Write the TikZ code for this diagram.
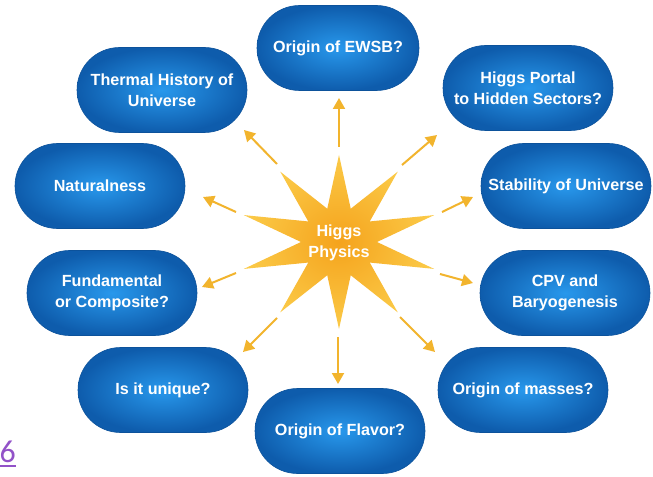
\documentclass[tikz,border=0pt]{standalone}
\usepackage{fontspec}
\setmainfont{Liberation Sans}
\newfontfamily\linkfont{Carlito}
\usetikzlibrary{arrows.meta,shapes.misc}
\definecolor{boxin}{RGB}{40,152,236}
\definecolor{boxout}{RGB}{14,92,172}
\definecolor{boxedge}{RGB}{12,82,155}
\definecolor{arrowc}{RGB}{242,180,45}
\definecolor{starin}{RGB}{245,163,28}
\definecolor{starout}{RGB}{251,202,72}
\definecolor{linkc}{RGB}{146,82,200}
\begin{document}
\begin{tikzpicture}[x=1bp,y=-1bp,
  topic/.style={rounded rectangle, minimum width=170bp, minimum height=85bp, inner sep=0pt,
    inner color=boxin, outer color=boxout, draw=boxedge, line width=0.6bp,
    text=white, font=\bfseries\fontsize{16.2}{21}\selectfont, align=center},
  ray/.style={draw=arrowc, line width=2bp, -{Triangle[length=11bp,width=12bp]}},
  label/.style={text=white, font=\bfseries\fontsize{16.2}{21}\selectfont, align=center, inner sep=0pt},
]
\useasboundingbox[fill=white] (0,0) rectangle (653,477);

% star
\shade[inner color=starin, outer color=starout]
  plot[samples at={0,...,19}, variable=\k]
  ({339+cos(90+18*\k)*ifthenelse(mod(\k,2)==0,100,38)},
   {242+sin(90+18*\k)*ifthenelse(mod(\k,2)==0,87,35)}) -- cycle;
\node[label] (core) at (339,243) {Higgs\\Physics};

% topics
\node[topic, minimum width=162bp] (ewsb) at (338,48) {Origin of EWSB?};
\node[topic] (thermal) at (162,90) {Thermal History of\\Universe};
\node[topic] (portal) at (528,88) {Higgs Portal\\to Hidden Sectors?};
\node[topic] (natural) at (100,186) {Naturalness};
\node[topic] (stab) at (566,186) {Stability of Universe};
\node[topic] (fund) at (112,293) {Fundamental\\or Composite?};
\node[topic] (cpv) at (565,293) {CPV and\\Baryogenesis};
\node[topic] (unique) at (163,390) {Is it unique?};
\node[topic] (masses) at (523,390) {Origin of masses?};
\node[topic] (flavor) at (340,431) {Origin of Flavor?};

% arrow ends
\coordinate (a1) at (339,147); \coordinate (b1) at (339,98);
\coordinate (a2) at (402,165); \coordinate (b2) at (437,135);
\coordinate (a3) at (277,164); \coordinate (b3) at (244,130);
\coordinate (a4) at (236,212); \coordinate (b4) at (203,197);
\coordinate (a5) at (236,273); \coordinate (b5) at (202,287);
\coordinate (a6) at (277,318); \coordinate (b6) at (243,352);
\coordinate (a7) at (338,337); \coordinate (b7) at (338,384);
\coordinate (a8) at (400,317); \coordinate (b8) at (435,352);
\coordinate (a9) at (440,274); \coordinate (b9) at (473,283);
\coordinate (a10) at (442,212); \coordinate (b10) at (473,197);
\foreach \i in {1,...,10} {\draw[ray] (a\i) -- (b\i);}

% link number at the lower left edge
\node[anchor=base east, inner sep=0pt, text=linkc, font=\linkfont\fontsize{32}{32}\selectfont] (six) at (16,462) {6};
\draw[linkc, line width=1.5bp] ([xshift=-1bp,yshift=-4bp]six.base west) -- ([yshift=-4bp]six.base east);
\end{tikzpicture}
\end{document}
